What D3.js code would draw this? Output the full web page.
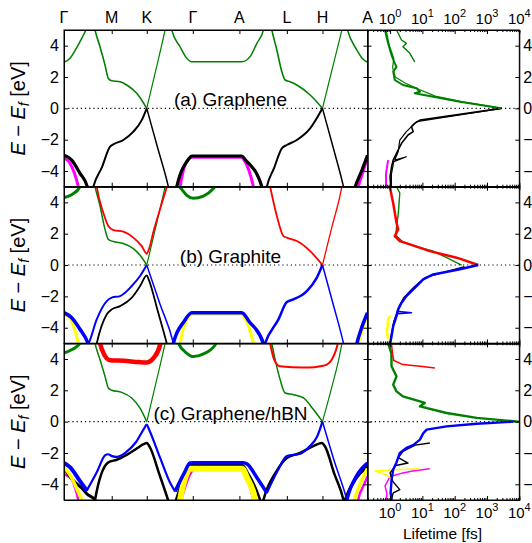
<!DOCTYPE html>
<html>
<head>
<meta charset="utf-8">
<script src="https://cdn.jsdelivr.net/npm/d3@7"></script>
<style>
  body { margin: 0; background: #fff; }
  svg text { font-family: "Liberation Sans", Arial, sans-serif; fill: #000; }
</style>
</head>
<body>
<svg id="chart" width="532" height="543"></svg>
<script>
// ---- axis values -----------------------------------------------------------
var kTicks   = [0, 0.477, 0.827, 1.287, 1.753, 2.227, 2.583, 3.033];
var kLabels  = ["Γ", "M", "K", "Γ", "A", "L", "H", "A"];
var eTicks   = [-4, -2, 0, 2, 4];
var eRange   = [-5, 5];
var tauRange = [0.2, 1e4];
var tauDecades = [1, 10, 100, 1000, 10000];
var panelLabels = ["(a) Graphene", "(b) Graphite", "(c) Graphene/hBN"];

// ---- (a) graphene bands, [k, E] --------------------------------------------
var aGreen1 = [[0,2.94],[0.06,3.2],[0.12,3.8],[0.18,4.5],[0.235,5.2]];
var aGreen2 = [[0.30,5.3],[0.31,5.0],[0.36,3.93],[0.41,2.76],[0.443,1.91],[0.477,1.76],[0.56,1.7],[0.627,1.49],[0.727,0.96],[0.827,0]];
var aGreen3 = [[0.827,0],[0.92,2.5],[1.01,5.0],[1.02,5.3]];
var aGreen4 = [[1.07,5.2],[1.077,5],[1.16,3.93],[1.227,3.19],[1.277,2.97],[1.777,2.97],[1.86,3.3],[1.927,4.15],[1.993,5],[2.0,5.2]];
var aGreen5 = [[2.07,5.2],[2.077,5],[2.127,3.72],[2.177,2.34],[2.21,1.81],[2.26,1.7],[2.327,1.49],[2.46,0.85],[2.583,0]];
var aGreen6 = [[2.583,0],[2.68,2.5],[2.777,5],[2.785,5.2]];
var aGreen7 = [[2.825,5.2],[2.833,5],[2.927,3.72],[2.98,3.2],[3.033,2.94]];
var aBlack1 = [[0,-3.0],[0.077,-3.3],[0.16,-4.15],[0.233,-5],[0.24,-5.2]];
var aBlack2 = [[0.285,-5.2],[0.293,-5],[0.38,-3.75],[0.46,-2.45],[0.493,-2.3],[0.593,-2.02],[0.693,-1.49],[0.777,-0.75],[0.827,0]];
var aBlack3 = [[0.827,0],[0.935,-2.5],[1.043,-5],[1.05,-5.2]];
var aBlack4 = [[1.12,-5.2],[1.127,-5],[1.243,-3.26],[1.277,-3.04],[1.777,-3.04],[1.81,-3.26],[1.977,-5],[1.985,-5.2]];
var aBlack5 = [[2.02,-5.2],[2.027,-5],[2.10,-3.8],[2.177,-2.55],[2.227,-2.34],[2.327,-2.02],[2.46,-1.28],[2.583,0]];
var aBlack6 = [[2.583,0],[2.69,-2.5],[2.793,-5],[2.8,-5.2]];
var aBlack7 = [[2.9,-5.2],[2.91,-5],[2.98,-3.9],[3.033,-3.0]];
var aMagenta1 = [[0,-3.15],[0.06,-3.5],[0.143,-5],[0.15,-5.2]];
var aMagenta2 = [[1.155,-5.2],[1.16,-5],[1.25,-3.2],[1.29,-3.12],[1.77,-3.12],[1.80,-3.3],[1.893,-5],[1.9,-5.2]];
var aMagenta3 = [[2.93,-5.2],[2.94,-5],[3.0,-3.8],[3.033,-3.2]];

// ---- (b) graphite bands ----------------------------------------------------
var bGreen1 = [[0,4.3],[0.08,4.5],[0.16,5.0],[0.17,5.2]];
var bGreen2 = [[0.30,5.3],[0.31,5],[0.36,3.77],[0.41,2.28],[0.443,1.64],[0.493,1.5],[0.593,1.38],[0.693,1.05],[0.77,0.55],[0.827,0]];
var bGreen3 = [[0.827,0],[0.92,2.5],[1.01,5],[1.02,5.3]];
var bGreen4 = [[1.14,5.1],[1.177,4.83],[1.227,4.45],[1.293,4.26],[1.393,4.4],[1.493,4.88],[1.52,5.1]];
var bRed1 = [[0.32,5.3],[0.327,5],[0.393,3.34],[0.443,2.49],[0.493,2.23],[0.593,2.13],[0.693,1.75],[0.777,1.21],[0.827,0.72],[0.845,0.95],[0.9,2.28],[0.97,3.78],[1.027,5],[1.035,5.2]];
var bRed2 = [[2.05,5.3],[2.06,5],[2.127,3.13],[2.193,1.85],[2.227,1.75],[2.327,1.53],[2.46,0.89],[2.583,0]];
var bRed3 = [[2.583,0],[2.68,2.5],[2.777,5],[2.785,5.3]];
var bBlue1 = [[0,-3.04],[0.077,-3.36],[0.16,-4.1],[0.24,-5.0],[0.25,-5.2]];
var bBlue2 = [[0.235,-5.1],[0.245,-5.0],[0.327,-3.47],[0.427,-2.3],[0.477,-2.08],[0.56,-1.98],[0.677,-1.34],[0.76,-0.7],[0.827,0]];
var bBlue3 = [[0.827,0],[0.96,-2.5],[1.093,-5],[1.1,-5.2]];
var bBlue4 = [[1.088,-5.2],[1.093,-5],[1.20,-3.6],[1.277,-3.04],[1.777,-3.04],[1.85,-3.6],[1.993,-5],[2.0,-5.2]];
var bBlue5 = [[2.0,-5.2],[2.01,-5],[2.143,-3.47],[2.227,-2.36],[2.293,-2.19],[2.427,-1.66],[2.527,-0.8],[2.583,0]];
var bBlue6 = [[2.583,0],[2.69,-2.5],[2.793,-5],[2.8,-5.2]];
var bBlue7 = [[2.92,-5.2],[2.927,-5],[2.98,-3.9],[3.033,-3.04]];
var bBlack1 = [[0.32,-5.2],[0.327,-5],[0.427,-3.15],[0.477,-2.83],[0.56,-2.62],[0.677,-2.08],[0.76,-1.34],[0.827,-0.66],[0.845,-0.9],[0.94,-3.0],[1.027,-5],[1.035,-5.2]];
var bYellow1 = [[0,-3.1],[0.07,-3.5],[0.143,-5],[0.15,-5.2]];
var bYellow2 = [[1.155,-5.2],[1.16,-5],[1.245,-3.3],[1.28,-3.12],[1.77,-3.12],[1.80,-3.3],[1.893,-5],[1.9,-5.2]];
var bYellow3 = [[2.93,-5.2],[2.94,-5],[3.0,-3.8],[3.033,-3.2]];

// ---- (c) graphene/hBN bands ------------------------------------------------
var cGreen1 = [[0,4.38],[0.08,4.6],[0.16,5.0],[0.17,5.2]];
var cGreen2 = [[0.30,5.3],[0.31,5],[0.36,3.96],[0.41,2.89],[0.443,2.15],[0.477,2.0],[0.577,1.87],[0.677,1.51],[0.76,0.87],[0.827,0]];
var cGreen3 = [[0.827,0],[0.92,2.5],[1.01,5],[1.02,5.3]];
var cGreen4 = [[1.13,5.2],[1.143,5],[1.227,4.36],[1.293,4.15],[1.393,4.32],[1.51,4.89],[1.53,5.2]];
var cGreen5 = [[2.06,5.3],[2.075,5],[2.11,3.96],[2.16,2.68],[2.21,1.83],[2.293,1.72],[2.393,1.51],[2.493,0.77],[2.583,0]];
var cGreen6 = [[2.583,0],[2.68,2.3],[2.75,4.1],[2.777,5],[2.785,5.3]];
var cRed1 = [[0.35,5.3],[0.36,5],[0.40,4.3],[0.46,3.92],[0.6,3.88],[0.75,3.8],[0.827,3.78],[0.90,4.1],[0.96,4.9],[0.97,5.2]];
var cRed2 = [[2.05,5.3],[2.06,5],[2.10,3.96],[2.16,3.53],[2.293,3.47],[2.45,3.45],[2.56,3.53],[2.627,3.64],[2.677,3.96],[2.72,4.6],[2.745,5.2]];
var cBlue1 = [[0,-2.64],[0.06,-2.9],[0.15,-3.7],[0.227,-4.4]];
var cBlue2 = [[0.227,-4.4],[0.33,-3.2],[0.41,-2.15],[0.44,-2.08],[0.48,-2.2],[0.527,-2.25],[0.62,-1.95],[0.72,-1.3],[0.80,-0.45],[0.827,-0.19],[0.85,-0.5],[0.96,-2.3],[1.06,-3.9],[1.11,-4.45]];
var cBlue3 = [[1.11,-4.45],[1.2,-3.3],[1.26,-2.64],[1.30,-2.62],[1.79,-2.62],[1.83,-2.7],[1.93,-3.6],[2.027,-4.55]];
var cBlue4 = [[2.027,-4.55],[2.13,-3.2],[2.227,-2.2],[2.36,-2.05],[2.45,-1.6],[2.53,-0.95],[2.583,0]];
var cBlue5 = [[2.583,0],[2.70,-2.5],[2.827,-5.0],[2.835,-5.2]];
var cBlue6 = [[2.82,-5.2],[2.827,-5],[2.93,-3.4],[3.033,-2.64]];
var cBlack1 = [[0,-2.96],[0.1,-3.8],[0.193,-4.34],[0.227,-4.6],[0.31,-5.0],[0.315,-5.2]];
var cBlack2 = [[0.305,-5.2],[0.31,-5.0],[0.443,-2.6],[0.527,-2.43],[0.63,-2.1],[0.73,-1.7],[0.80,-1.42],[0.827,-1.36],[0.86,-1.65],[0.95,-3.3],[1.04,-5.0],[1.05,-5.2]];
var cBlack3 = [[1.11,-5.2],[1.12,-5.0],[1.21,-3.3],[1.26,-2.76],[1.78,-2.76],[1.84,-3.3],[1.96,-5.0],[1.97,-5.2]];
var cBlack4 = [[1.985,-5.2],[1.993,-5],[2.12,-3.2],[2.227,-2.32],[2.36,-2.0],[2.48,-1.6],[2.577,-1.36],[2.61,-1.6],[2.70,-3.3],[2.793,-5],[2.8,-5.2]];
var cBlack5 = [[2.80,-5.2],[2.81,-5],[2.92,-3.6],[3.033,-2.9]];
var cYellow1 = [[0,-2.9],[0.06,-3.4],[0.15,-4.6],[0.177,-5.0],[0.185,-5.2]];
var cYellow2 = [[1.155,-5.2],[1.16,-5],[1.21,-3.6],[1.26,-3.0],[1.78,-3.0],[1.83,-3.6],[1.91,-5],[1.915,-5.2]];
var cYellow3 = [[2.89,-5.2],[2.9,-5],[2.97,-3.8],[3.033,-3.0]];
var cMagenta1 = [[0,-3.35],[0.077,-3.7],[0.143,-5],[0.15,-5.2]];
var cMagenta2 = [[1.16,-5.2],[1.17,-5],[1.25,-3.5],[1.30,-3.05],[1.77,-3.05],[1.83,-3.6],[1.893,-5],[1.9,-5.2]];
var cMagenta3 = [[2.935,-5.2],[2.94,-5],[3.0,-4.0],[3.033,-3.5]];

// ---- lifetimes, [tau fs, E] ------------------------------------------------
var aTauGreen1 = [[0.69,5],[0.87,4.15],[1.11,3.4],[1.4,2.87],[1.58,2.65],[1.25,2.34],[1.4,1.81],[2.5,1.49],[6.6,1.28],[8.4,1.06],[5.8,0.96],[21.6,0.74],[145,0.42],[2800,0]];
var aTauGreen2 = [[1.58,5],[2.26,4.36],[3.2,4.15],[2.5,3.93],[4.1,3.51],[5.8,2.97]];
var aTauGreen3 = [[0.75,5],[0.95,4.0],[1.3,3.2],[1.2,2.6],[1.45,2.0],[3.0,1.6],[8,1.2],[25,0.78],[200,0.4],[2800,0]];
var aTauBlack1 = [[2800,0],[8.4,-0.75],[5.8,-0.96],[4.6,-1.17],[5.2,-1.49],[3.6,-1.7],[2.26,-2.23],[1.58,-2.87],[1.25,-3.3],[1.11,-3.73],[1.0,-4.36],[1.04,-5]];
var aTauBlack2 = [[2800,0],[6.6,-0.85],[3.2,-1.49],[2.0,-2.02],[1.78,-2.77],[1.4,-3.3],[3.2,-3.09],[1.3,-3.4],[1.1,-4.2],[1.1,-5]];
var aTauMagenta = [[0.87,-3.3],[0.75,-4.15],[0.75,-5]];
var bTauGreen = [[1.58,5],[2.0,4.6],[1.8,3.3],[1.6,2.5],[1.5,1.9],[2.4,1.5],[6,1.2],[21.6,0.89],[56,0.47],[164,0]];
var bTauRed = [[0.98,5],[1.24,3.98],[1.58,2.7],[1.78,2.28],[1.4,1.85],[2.0,1.53],[4.1,1.32],[17,0.89],[115,0.47],[536,0]];
var bTauBlue = [[536,0],[145,-0.27],[21.6,-0.6],[10.6,-0.91],[6.6,-1.34],[3.2,-1.98],[2.26,-2.4],[1.78,-2.83],[1.58,-3.25],[1.25,-3.9],[1.11,-4.53],[1.0,-5]];
var bTauBlue2 = [[1.6,-2.95],[4.6,-3.04],[1.7,-3.1]];
var bTauBlack = [[200,-0.1],[12,-0.8],[5.5,-1.4],[2.6,-2.1],[1.8,-2.8],[1.3,-3.6],[1.05,-4.6]];
var bTauYellow = [[1.0,-3.25],[0.87,-3.46],[0.8,-4.3],[0.87,-4.7]];
var cTauGreen = [[0.87,5],[1.1,4.36],[1.11,3.53],[1.58,2.89],[1.25,2.36],[1.58,1.93],[2.5,1.61],[8.4,1.29],[11.9,1.19],[8.4,0.98],[56,0.55],[479,0.24],[9500,0]];
var cTauRed = [[1.1,5],[1.2,4.3],[1.3,3.9],[2.5,3.64],[10,3.52],[24.4,3.43]];
var cTauBlue = [[6500,0],[479,-0.13],[56,-0.3],[13.5,-0.51],[10.6,-0.75],[8.4,-1.15],[5.2,-1.5],[3.2,-1.68],[2.0,-2.0],[1.58,-2.6],[1.25,-3.06],[1.11,-3.7],[1.04,-4.55],[1.11,-5]];
var cTauBlack = [[17,-1.36],[6,-1.5],[2.5,-1.89],[1.8,-2.3],[3.6,-2.64],[1.5,-2.8],[1.0,-3.27],[1.2,-3.8],[2.0,-4.34],[1.25,-4.55],[1.1,-5]];
var cTauYellow = [[8.4,-3.0],[2,-3.05],[0.34,-3.15],[0.8,-3.4],[1.2,-3.7]];
var cTauMagenta = [[17,-3.0],[5,-3.15],[2.5,-3.27],[1.0,-3.5],[0.7,-4.1],[0.8,-4.6],[0.75,-5]];

// ---- layout ----------------------------------------------------------------
var svg = d3.select("#chart");
var kLeft = 64, kRight = 367.5, tRight = 519.3, panelH = 156.7;
var panelTops = [30, 186.7, 343.3];

var xK = d3.scaleLinear().domain([kTicks[0], kTicks[kTicks.length - 1]]).range([kLeft, kRight]);
var xT = d3.scaleLog().domain(tauRange).range([kRight, tRight]);

// what to draw in each panel: [data, colour, line width]
var panels = [
  { bands: [[aGreen1,"green",1.5],[aGreen2,"green",1.6],[aGreen3,"green",1.2],[aGreen4,"green",1.5],[aGreen5,"green",1.6],[aGreen6,"green",1.2],[aGreen7,"green",1.5],
            [aMagenta1,"magenta",3],[aMagenta2,"magenta",3],[aMagenta3,"magenta",3],
            [aBlack1,"black",3.2],[aBlack2,"black",2],[aBlack3,"black",1.5],[aBlack4,"black",3.2],[aBlack5,"black",2],[aBlack6,"black",1.5],[aBlack7,"black",3.2]],
    taus:  [[aTauMagenta,"magenta",2],[aTauBlack2,"black",1.2],[aTauBlack1,"black",1.6],[aTauGreen2,"green",1.4],[aTauGreen3,"green",1.2],[aTauGreen1,"green",2]] },
  { bands: [[bGreen1,"green",3],[bGreen2,"green",1.5],[bGreen3,"green",1.2],[bGreen4,"green",3],
            [bRed1,"red",1.8],[bRed2,"red",1.8],[bRed3,"red",1.3],
            [bYellow1,"yellow",3],[bYellow2,"yellow",3],[bYellow3,"yellow",3],
            [bBlack1,"black",1.8],
            [bBlue1,"blue",3.5],[bBlue2,"blue",2],[bBlue3,"blue",1.5],[bBlue4,"blue",3.5],[bBlue5,"blue",2.5],[bBlue6,"blue",1.5],[bBlue7,"blue",3.5]],
    taus:  [[bTauYellow,"yellow",2.5],[bTauBlack,"black",1.2],[bTauGreen,"green",1.4],[bTauRed,"red",2.5],[bTauBlue,"blue",2.5],[bTauBlue2,"blue",1.5]] },
  { bands: [[cGreen1,"green",3],[cGreen2,"green",1.5],[cGreen3,"green",1.2],[cGreen4,"green",3],[cGreen5,"green",1.5],[cGreen6,"green",1.2],
            [cRed1,"red",4.5],[cRed2,"red",2],
            [cMagenta1,"magenta",2.5],[cMagenta2,"magenta",2.5],[cMagenta3,"magenta",2.5],
            [cBlack1,"black",3],[cBlack2,"black",2.5],[cBlack3,"black",2.5],[cBlack4,"black",2.5],[cBlack5,"black",3],
            [cYellow1,"yellow",3.5],[cYellow2,"yellow",6],[cYellow3,"yellow",3.5],
            [cBlue1,"blue",4],[cBlue2,"blue",2.2],[cBlue3,"blue",3.5],[cBlue4,"blue",2.2],[cBlue5,"blue",1.5],[cBlue6,"blue",3.5]],
    taus:  [[cTauMagenta,"magenta",1.5],[cTauYellow,"yellow",1.5],[cTauBlack,"black",1.4],[cTauGreen,"green",2.4],[cTauRed,"red",1.5],[cTauBlue,"blue",2.4]] }
];

var defs = svg.append("defs");

panels.forEach(function(p, i) {
  var top = panelTops[i];
  var y = d3.scaleLinear().domain(eRange).range([top + panelH, top]);

  defs.append("clipPath").attr("id", "clipL" + i)
    .append("rect").attr("x", kLeft).attr("y", top).attr("width", kRight - kLeft).attr("height", panelH);
  defs.append("clipPath").attr("id", "clipR" + i)
    .append("rect").attr("x", kRight).attr("y", top).attr("width", tRight - kRight).attr("height", panelH);

  // band structure
  var bandLine = d3.line().x(function(d) { return xK(d[0]); }).y(function(d) { return y(d[1]); })
                   .curve(d3.curveMonotoneX);
  svg.append("g").attr("clip-path", "url(#clipL" + i + ")")
    .selectAll("path").data(p.bands).enter().append("path")
    .attr("d", function(b) { return bandLine(b[0]); })
    .attr("fill", "none")
    .attr("stroke", function(b) { return b[1]; })
    .attr("stroke-width", function(b) { return b[2]; })
    .attr("stroke-linejoin", "round");

  // lifetimes
  var tauLine = d3.line().x(function(d) { return xT(d[0]); }).y(function(d) { return y(d[1]); });
  svg.append("g").attr("clip-path", "url(#clipR" + i + ")")
    .selectAll("path").data(p.taus).enter().append("path")
    .attr("d", function(b) { return tauLine(b[0]); })
    .attr("fill", "none")
    .attr("stroke", function(b) { return b[1]; })
    .attr("stroke-width", function(b) { return b[2]; })
    .attr("stroke-linejoin", "round");

  // E = E_f
  svg.append("line").attr("x1", kLeft).attr("x2", tRight).attr("y1", y(0)).attr("y2", y(0))
    .attr("stroke", "black").attr("stroke-width", 1.1).attr("stroke-dasharray", "1.2,3");

  // ticks (inward) on every side
  var inner = function(ax) { return ax.tickSize(-4).tickSizeOuter(0).tickFormat(""); };
  svg.append("g").attr("transform", "translate(0," + top + ")")
    .call(inner(d3.axisTop(xK).tickValues(kTicks.slice(1, -1))));
  svg.append("g").attr("transform", "translate(0," + (top + panelH) + ")")
    .call(inner(d3.axisBottom(xK).tickValues(kTicks.slice(1, -1))));
  svg.append("g").attr("transform", "translate(" + kLeft + ",0)")
    .call(inner(d3.axisLeft(y).tickValues(eTicks)));
  svg.append("g").attr("transform", "translate(" + kRight + ",0)")
    .call(inner(d3.axisRight(y).tickValues(eTicks)));
  svg.append("g").attr("transform", "translate(" + kRight + ",0)")
    .call(inner(d3.axisLeft(y).tickValues(eTicks)));
  svg.append("g").attr("transform", "translate(" + tRight + ",0)")
    .call(inner(d3.axisRight(y).tickValues(eTicks)));
  var minor = xT.ticks().filter(function(t) { return tauDecades.indexOf(t) < 0; });
  svg.append("g").attr("transform", "translate(0," + top + ")")
    .call(inner(d3.axisTop(xT).tickValues(tauDecades)));
  svg.append("g").attr("transform", "translate(0," + (top + panelH) + ")")
    .call(inner(d3.axisBottom(xT).tickValues(tauDecades)));
  svg.append("g").attr("transform", "translate(0," + top + ")")
    .call(inner(d3.axisTop(xT).tickValues(minor)).tickSize(-2));
  svg.append("g").attr("transform", "translate(0," + (top + panelH) + ")")
    .call(inner(d3.axisBottom(xT).tickValues(minor)).tickSize(-2));

  // frames
  svg.append("rect").attr("x", kLeft).attr("y", top).attr("width", kRight - kLeft).attr("height", panelH)
    .attr("fill", "none").attr("stroke", "black").attr("stroke-width", 1);
  svg.append("rect").attr("x", kRight).attr("y", top).attr("width", tRight - kRight).attr("height", panelH)
    .attr("fill", "none").attr("stroke", "black").attr("stroke-width", 1);

  // tick labels, left and right
  svg.append("g").selectAll("text").data(eTicks).enter().append("text")
    .attr("x", kLeft - 5).attr("y", function(d) { return y(d); }).attr("dy", "0.36em")
    .attr("text-anchor", "end").style("font-size", "16px")
    .text(function(d) { return d < 0 ? "\u2212" + (-d) : d; });
  svg.append("g").selectAll("text").data(eTicks).enter().append("text")
    .attr("x", tRight + 4).attr("y", function(d) { return y(d); }).attr("dy", "0.36em")
    .attr("text-anchor", "start").style("font-size", "16px")
    .text(function(d) { return d < 0 ? "\u2212" + (-d) : d; });

  // y label
  var yl = svg.append("text")
    .attr("transform", "translate(24.5," + (top + panelH / 2) + ") rotate(-90)")
    .attr("text-anchor", "middle").style("font-size", "20px");
  yl.append("tspan").style("font-style", "italic").text("E");
  yl.append("tspan").text(" \u2212 ");
  yl.append("tspan").style("font-style", "italic").text("E");
  yl.append("tspan").style("font-style", "italic").style("font-size", "14px").attr("dy", 4).text("f");
  yl.append("tspan").attr("dy", -4).text(" [eV]");

  // panel name
  svg.append("text").attr("x", 230.5).attr("y", y(0) - 2).attr("text-anchor", "middle")
    .style("font-size", "19px").text(panelLabels[i]);
});

svg.selectAll(".tick line").attr("stroke", "black").attr("stroke-width", 1);

// k-point labels
svg.append("g").selectAll("text").data(kTicks).enter().append("text")
  .attr("x", function(d) { return xK(d); }).attr("y", 22.5)
  .attr("text-anchor", "middle").style("font-size", "16px")
  .text(function(d, i) { return kLabels[i]; });

// lifetime decade labels, top and bottom
function decadeLabel(yb) {
  var t = svg.append("g").selectAll("text").data(tauDecades).enter().append("text")
    .attr("x", function(d) { return xT(d); }).attr("y", yb)
    .attr("text-anchor", "middle").style("font-size", "15px");
  t.append("tspan").text("10");
  t.append("tspan").attr("dy", -7).style("font-size", "11px")
    .text(function(d) { return Math.round(Math.log10(d)); });
}
decadeLabel(23.5);
decadeLabel(517.5);

svg.append("text").attr("x", 442.5).attr("y", 539).attr("text-anchor", "middle")
  .style("font-size", "15.5px").text("Lifetime [fs]");
</script>
</body>
</html>
